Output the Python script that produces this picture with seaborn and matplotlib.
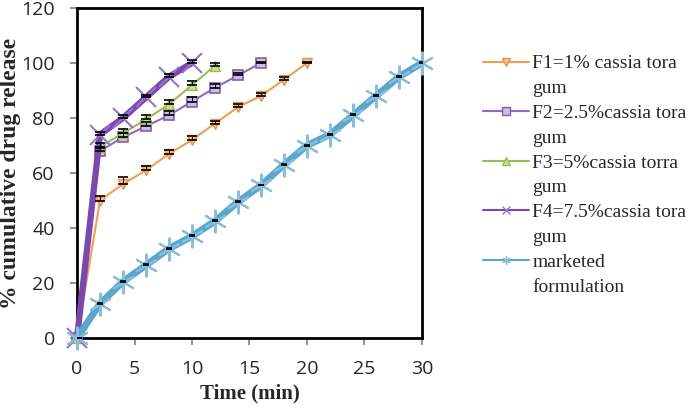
import numpy as np
import pandas as pd
import matplotlib
matplotlib.use("Agg")
import matplotlib.pyplot as plt
from matplotlib.lines import Line2D
import seaborn as sns

# ---------- DATA ----------
time_f1 = [0, 2, 4, 6, 8, 10, 12, 14, 16, 18, 20]
rel_f1 = [0, 50, 56, 61, 67, 72, 78, 84, 88, 94, 100]
err_f1 = [0, 1.5, 2.5, 1.5, 1.5, 1.5, 1, 1, 1, 1, 0.5]

time_f2 = [0, 2, 4, 6, 8, 10, 12, 14, 16]
rel_f2 = [0, 68, 73, 77, 81, 86, 91, 95.5, 100]
err_f2 = [0, 1, 1.5, 1.5, 1.5, 1.5, 1.5, 1, 0.5]

time_f3 = [0, 2, 4, 6, 8, 10, 12]
rel_f3 = [0, 69.5, 74.5, 79.5, 85, 92, 99]
err_f3 = [0, 1.5, 1.5, 1.5, 1.5, 1.5, 1]

time_f4 = [0, 2, 4, 6, 8, 10]
rel_f4 = [0, 74, 80, 87.5, 95, 100]
err_f4 = [0, 1, 1, 1, 1, 1]

time_mk = [0, 2, 4, 6, 8, 10, 12, 14, 16, 18, 20, 22, 24, 26, 28, 30]
rel_mk = [0, 12.5, 20.5, 26.5, 32.5, 37, 42.5, 49.5, 55.5, 63, 70, 74, 81, 88, 95, 100]
err_mk = [0, 0.3, 0.3, 0.3, 0.3, 0.3, 0.3, 0.3, 0.3, 0.3, 0.3, 0.3, 0.3, 0.3, 0.3, 0.3]

labels = ["F1=1% cassia tora", "F2=2.5%cassia tora", "F3=5%cassia torra",
          "F4=7.5%cassia tora", "marketed"]
x_ticks = [0, 5, 10, 15, 20, 25, 30]
y_ticks = [0, 20, 40, 60, 80, 100, 120]
# --------------------------

sns.set_style("white")
plt.rcParams["font.family"] = ["Open Sans", "DejaVu Sans"]

fig = plt.figure(figsize=(6.91, 4.13), dpi=100)
ax = fig.add_axes([77 / 691, 1 - 338 / 413, 345 / 691, 330 / 413])

series = [
    dict(x=time_f1, y=rel_f1, e=err_f1, color="#EF9F52", lw=1.5, marker="v", ms=7,
         mfc="#F8C08C", mec="#E8944A", mew=1, cap=3.5),
    dict(x=time_f2, y=rel_f2, e=err_f2, color="#8B6CC2", lw=1.5, marker="s", ms=7,
         mfc="#CDBDE6", mec="#8064A2", mew=1.2, cap=3.5),
    dict(x=time_f3, y=rel_f3, e=err_f3, color="#9BBB59", lw=1.5, marker="^", ms=7,
         mfc="#C8DE90", mec="#9BBB59", mew=1, cap=3.5),
    dict(x=time_f4, y=rel_f4, e=err_f4, color="#7A48AE", lw=4.5, marker="x", ms=15,
         mfc="none", mec="#9676C8", mew=1.5, cap=3.5),
    dict(x=time_mk, y=rel_mk, e=err_mk, color="#5BA6CC", lw=5, marker=(6, 2, 0), ms=17,
         mfc="none", mec="#86BEDC", mew=1.5, cap=2),
]

for s in series:
    sns.lineplot(x=s["x"], y=s["y"], ax=ax, color=s["color"], lw=s["lw"],
                 marker=s["marker"], markersize=s["ms"], markerfacecolor=s["mfc"],
                 markeredgecolor=s["mec"], markeredgewidth=s["mew"], clip_on=False,
                 zorder=3)
for s in series:
    ax.errorbar(s["x"], s["y"], yerr=[np.zeros(len(s["e"])), s["e"]], fmt="none",
                ecolor="black", elinewidth=0.8, capsize=s["cap"], capthick=1.2, zorder=5)

ax.set_xlim(0, 30)
ax.set_ylim(0, 120)
ax.set_xticks(x_ticks)
ax.set_yticks(y_ticks)
ax.tick_params(axis="both", direction="out", color="#808080", width=1.2, length=5,
               labelsize=14, pad=11, left=True, bottom=True)
ax.tick_params(axis="x", pad=11)
for sp in ax.spines.values():
    sp.set_visible(True)
    sp.set_color("black")
    sp.set_linewidth(2)

ax.set_xlabel("Time (min)", family="Liberation Serif", fontweight="bold", fontsize=15,
              labelpad=4)
ax.set_ylabel("% cumulative drug release", family="Liberation Serif", fontweight="bold",
              fontsize=17, labelpad=0)

# legend: second lines as entries with invisible handles
handles, texts = [], []
second = ["gum", "gum", "gum", "gum", "formulation"]
for s, lab, sec in zip(series, labels, second):
    handles.append(Line2D([], [], color=s["color"], lw=1.5, marker=s["marker"],
                          markersize=6, markerfacecolor=s["mfc"],
                          markeredgecolor=s["mec"], markeredgewidth=1))
    texts.append(lab)
    handles.append(Line2D([], [], alpha=0))
    texts.append(sec)
leg = fig.legend(handles, texts, loc="upper left", bbox_to_anchor=(473 / 691, 1 - 45 / 413),
                 frameon=False, borderpad=0, handlelength=2.4, handletextpad=0.15,
                 labelspacing=0.37, prop={"family": "Liberation Serif", "size": 14})

fig.savefig("out.png", dpi=100)
